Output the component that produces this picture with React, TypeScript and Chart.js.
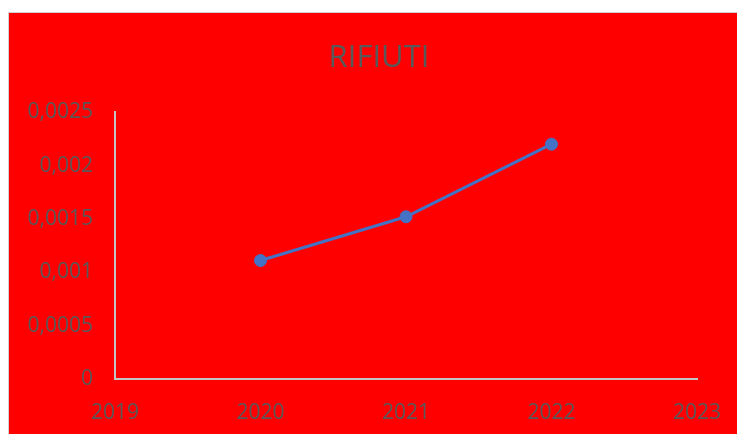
import React, { useEffect, useRef } from "react";
import { Chart, registerables } from "chart.js";

Chart.register(...registerables);

const years: number[] = [2020, 2021, 2022];
const values: number[] = [0.00111, 0.00152, 0.0022];
const chartTitle = "RIFIUTI";
const xMin = 2019;
const xMax = 2023;
const yMax = 0.0025;
const yStep = 0.0005;

const fontFamily = "'Open Sans', 'Noto Sans', sans-serif";
const textColor = "#595959";
const axisColor = "#c4c4c4";

export default function App() {
  const ref = useRef<HTMLCanvasElement | null>(null);

  useEffect(() => {
    if (!ref.current) return;
    const chart = new Chart(ref.current, {
      type: "line",
      data: {
        datasets: [
          {
            label: chartTitle,
            data: years.map((y, i) => ({ x: y, y: values[i] })),
            borderColor: "#4472C4",
            backgroundColor: "#4472C4",
            borderWidth: 3,
            pointRadius: 6,
            pointBorderWidth: 1,
            pointBackgroundColor: "#4472C4",
            pointBorderColor: "#4472C4",
            tension: 0,
          },
        ],
      },
      options: {
        animation: false,
        responsive: false,
        maintainAspectRatio: false,
        layout: { autoPadding: false, padding: { left: 12, right: 0, top: 0, bottom: 0 } },
        plugins: {
          legend: { display: false },
          tooltip: { enabled: false },
          title: {
            display: true,
            text: chartTitle,
            color: textColor,
            font: { family: fontFamily, size: 31, weight: "normal" },
            padding: { top: 27, bottom: 35 },
          },
        },
        scales: {
          x: {
            type: "linear",
            min: xMin,
            max: xMax,
            grid: { drawOnChartArea: false, drawTicks: false },
            border: { display: true, color: axisColor, width: 2 },
            ticks: {
              stepSize: 1,
              padding: 21,
              color: textColor,
              font: { family: fontFamily, size: 21 },
              maxRotation: 0,
              callback: (v: any) => String(v),
            },
            afterFit: (s: any) => {
              s.height = 55;
              s.paddingLeft = 0;
              s.paddingRight = 0;
            },
          },
          y: {
            min: 0,
            max: yMax,
            grid: { drawOnChartArea: false, drawTicks: false },
            border: { display: true, color: axisColor, width: 2 },
            ticks: {
              stepSize: yStep,
              padding: 22,
              color: textColor,
              font: { family: fontFamily, size: 21 },
              callback: (v: any) => String(Number(Number(v).toFixed(4))).replace(".", ","),
            },
            afterFit: (s: any) => {
              s.width = 94;
            },
          },
          yRightSpace: {
            type: "linear",
            position: "right",
            min: 0,
            max: 1,
            grid: { display: false, drawTicks: false },
            border: { display: false },
            ticks: { display: false },
            afterFit: (s: any) => {
              s.width = 40;
            },
          },
        },
      },
    });
    return () => chart.destroy();
  }, []);

  return (
    <div
      style={{
        position: "absolute",
        left: 8,
        top: 12,
        width: 729,
        height: 422,
        boxSizing: "border-box",
        borderLeft: "1px solid #d0d0d0",
        borderTop: "1px solid #d0d0d0",
        background: "#ff0000",
        overflow: "hidden",
      }}
    >
      <canvas ref={ref} width={728} height={421} style={{ display: "block", width: 728, height: 421 }} />
    </div>
  );
}
